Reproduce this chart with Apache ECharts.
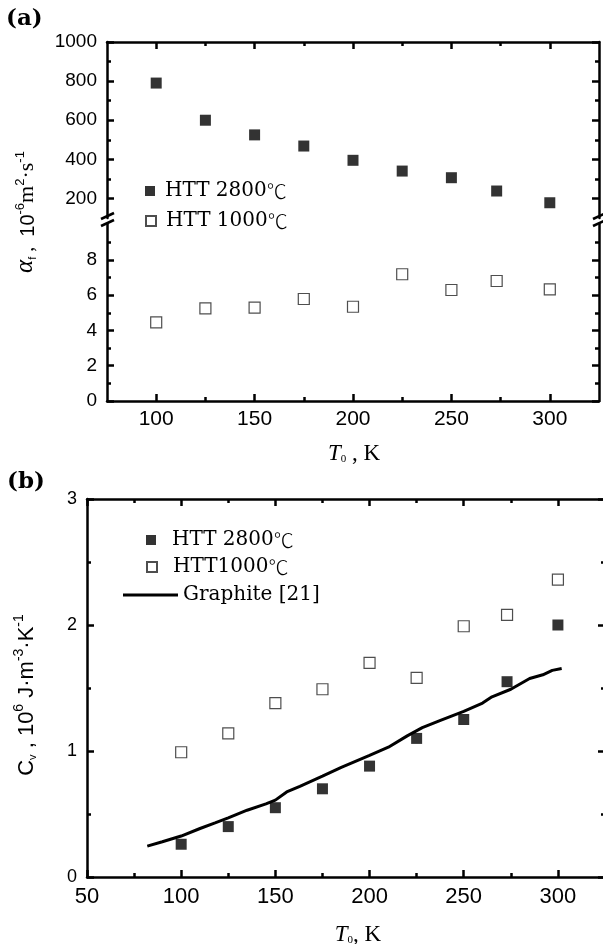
<!DOCTYPE html>
<html>
<head>
<meta charset="utf-8">
<script src="https://cdn.jsdelivr.net/npm/echarts@6/dist/echarts.min.js"></script>
<style>html,body{margin:0;padding:0;background:#fff}#c{width:603px;height:944px}</style>
</head>
<body>
<div id="c"></div>
<script>
// ---------- data ----------
const temps = [100, 125, 150, 175, 200, 225, 250, 273, 300];
const alpha2800 = [790, 600, 525, 468, 395, 340, 306, 238, 178];
const alpha1000 = [4.46, 5.25, 5.29, 5.78, 5.34, 7.18, 6.29, 6.80, 6.33];
const cv2800 = [0.26, 0.40, 0.55, 0.70, 0.88, 1.10, 1.25, 1.55, 2.00];
const cv1000 = [0.99, 1.14, 1.38, 1.49, 1.70, 1.58, 1.99, 2.08, 2.36];
const graphiteT = [82, 90, 100, 110, 118, 125, 135, 145, 150, 156, 163, 175, 185, 200, 210, 220, 228, 238, 250, 260, 265, 275, 285, 292, 297, 302];
const graphiteC = [0.245, 0.28, 0.325, 0.385, 0.43, 0.47, 0.53, 0.58, 0.61, 0.675, 0.72, 0.80, 0.87, 0.965, 1.03, 1.12, 1.185, 1.245, 1.315, 1.38, 1.43, 1.49, 1.575, 1.605, 1.64, 1.655];

const xTicksA = [100, 150, 200, 250, 300];
const xMinorA = [125, 175, 225, 275];
const yTicksAUpper = [200, 400, 600, 800, 1000];
const yMinorAUpper = [300, 500, 700, 900];
const yTicksALower = [0, 2, 4, 6, 8];
const yMinorALower = [1, 3, 5, 7, 9];
const xTicksB = [50, 100, 150, 200, 250, 300];
const xMinorB = [75, 125, 175, 225, 275];
const yTicksB = [0, 1, 2, 3];
const yMinorB = [0.5, 1.5, 2.5];

const legendTexts = {
  a2800: ['HTT 2800', '℃'], a1000: ['HTT 1000', '℃'],
  b2800: ['HTT 2800', '℃'], b1000: ['HTT1000', '℃'], graphite: ['Graphite [21]', '']
};

// ---------- helpers ----------
const SERIF = "'Liberation Serif', 'Times New Roman', serif";
const WSERIF = "'DejaVu Serif', 'Liberation Serif', serif";
const SANS = "'Liberation Sans', Arial, sans-serif";
const CJK = "'Noto Sans CJK SC', 'DejaVu Sans', sans-serif";
const xAxes = [], yAxes = [];
const lineStyle = {color: '#000', width: 2.5};

function addSide(arr, g, pos, min, max, majors, minors, o) {
  const idx = arr.length;
  arr.push({
    gridIndex: g, type: 'value', position: pos, min: min, max: max,
    axisLine: {show: !!o.line, onZero: false, lineStyle: lineStyle},
    axisTick: {show: !!o.ticks, inside: true, length: 7, lineStyle: lineStyle, customValues: majors},
    axisLabel: o.labels ? {show: true, customValues: majors, fontSize: o.fontSize, fontFamily: SANS, color: '#000', margin: o.margin, formatter: v => String(v)} : {show: false},
    splitLine: {show: false}
  });
  arr.push({
    gridIndex: g, type: 'value', position: pos, min: min, max: max,
    axisLine: {show: false, onZero: false},
    axisTick: {show: !!o.ticks, inside: true, length: 4, lineStyle: lineStyle, customValues: minors},
    axisLabel: {show: false},
    splitLine: {show: false}
  });
  return idx;
}

const grids = [
  {left: 107, top: 42, width: 492, height: 176, outerBoundsMode: 'none', containLabel: false},      // (a) upper
  {left: 107, top: 224.5, width: 492, height: 176.5, outerBoundsMode: 'none', containLabel: false}, // (a) lower
  {left: 87, top: 499, width: 518, height: 378, outerBoundsMode: 'none', containLabel: false}       // (b)
];

// (a) upper
const xA0 = addSide(xAxes, 0, 'top', 75, 325, xTicksA, xMinorA, {line: true, ticks: true});
const yA0 = addSide(yAxes, 0, 'left', 100, 1000, yTicksAUpper, yMinorAUpper, {line: true, ticks: true, labels: true, fontSize: 19, margin: 10});
addSide(yAxes, 0, 'right', 100, 1000, yTicksAUpper, yMinorAUpper, {line: true, ticks: true});
// (a) lower
const xA1 = addSide(xAxes, 1, 'bottom', 75, 325, xTicksA, xMinorA, {line: true, ticks: true, labels: true, fontSize: 21, margin: 8});
const yA1 = addSide(yAxes, 1, 'left', 0, 10, yTicksALower, yMinorALower, {line: true, ticks: true, labels: true, fontSize: 19, margin: 10});
addSide(yAxes, 1, 'right', 0, 10, yTicksALower, yMinorALower, {line: true, ticks: true});
// (b)
const xB = addSide(xAxes, 2, 'bottom', 50, 325, xTicksB, xMinorB, {line: true, ticks: true, labels: true, fontSize: 22, margin: 9});
addSide(xAxes, 2, 'top', 50, 325, xTicksB, xMinorB, {line: true, ticks: true});
const yB = addSide(yAxes, 2, 'left', 0, 3, yTicksB, yMinorB, {line: true, ticks: true, labels: true, fontSize: 18, margin: 10});
addSide(yAxes, 2, 'right', 0, 3, yTicksB, yMinorB, {line: true, ticks: true});

const zip = (xs, ys) => xs.map((x, i) => [x, ys[i]]);
const filled = {color: '#000'};
const open = {color: '#fff', borderColor: '#222', borderWidth: 1.2};

const series = [
  {name: 'a2800', type: 'scatter', xAxisIndex: xA0, yAxisIndex: yA0, symbol: 'rect', symbolSize: 11, itemStyle: filled, data: zip(temps, alpha2800)},
  {name: 'a1000', type: 'scatter', xAxisIndex: xA1, yAxisIndex: yA1, symbol: 'rect', symbolSize: 11, itemStyle: open, data: zip(temps, alpha1000)},
  {name: 'graphite', type: 'line', xAxisIndex: xB, yAxisIndex: yB, symbol: 'none', showSymbol: false, lineStyle: {color: '#000', width: 3}, itemStyle: {color: '#000'}, data: zip(graphiteT, graphiteC), z: 1},
  {name: 'b2800', type: 'scatter', xAxisIndex: xB, yAxisIndex: yB, symbol: 'rect', symbolSize: 11, itemStyle: filled, data: zip(temps, cv2800), z: 3},
  {name: 'b1000', type: 'scatter', xAxisIndex: xB, yAxisIndex: yB, symbol: 'rect', symbolSize: 11, itemStyle: open, data: zip(temps, cv1000), z: 3}
];

function legendItem(name, left, top, w, h, pad, icon, extra) {
  const t = legendTexts[name];
  return Object.assign({
    left: left, top: top, padding: 0, itemWidth: w, itemHeight: h, selectedMode: false,
    data: [{name: name, icon: icon}],
    formatter: () => '{t|' + t[0] + '}' + (t[1] ? '{c|' + t[1] + '}' : ''),
    textStyle: {rich: {
      t: {fontFamily: WSERIF, fontSize: 20, color: '#000', padding: [0, 0, 0, pad]},
      c: {fontFamily: CJK, fontSize: 20, fontWeight: 300, color: '#000'}
    }}
  }, extra || {});
}

const legends = [
  legendItem('a2800', 145, 181, 10, 10, 5, 'rect'),
  legendItem('a1000', 145, 211, 10, 10, 5, 'rect'),
  legendItem('b2800', 146, 530, 10, 10, 11, 'rect'),
  legendItem('b1000', 146, 557, 10, 10, 11, 'rect'),
  legendItem('graphite', 123, 585, 55, 3, 0, 'rect', {itemStyle: {color: '#000'}})
];

const sup = (s) => ({fontSize: s, verticalAlign: 'top', fontFamily: SANS, color: '#000'});
const graphic = [
  {type: 'text', left: 6, top: 8, style: {text: '(a)', font: "bold 23px 'DejaVu Serif'", fill: '#000'}},
  {type: 'text', left: 7, top: 471, style: {text: '(b)', font: "bold 23px 'DejaVu Serif'", fill: '#000'}},
  // y title (a)
  {type: 'text', x: 26, y: 212, rotation: Math.PI / 2, style: {
    text: '{al|α}{sb|f}{sp| ,  }{n|10}{su|-6}{m|m}{su|2}{m|·s}{su|-1}',
    align: 'center', verticalAlign: 'middle',
    rich: {
      al: {fontFamily: SERIF, fontStyle: 'italic', fontSize: 25, color: '#000', lineHeight: 24, verticalAlign: 'bottom'},
      sb: {fontFamily: SANS, fontSize: 11, color: '#000', verticalAlign: 'bottom'},
      sp: {fontFamily: SERIF, fontSize: 20, color: '#000', verticalAlign: 'bottom'},
      n: {fontFamily: SANS, fontSize: 20, color: '#000', verticalAlign: 'bottom'},
      m: {fontFamily: SERIF, fontSize: 22, color: '#000', verticalAlign: 'bottom'},
      su: sup(13)
    }
  }},
  // y title (b)
  {type: 'text', x: 25, y: 695, rotation: Math.PI / 2, style: {
    text: '{c|C}{sb|v}{c| , 10}{su|6}{c| J·m}{su|-3}{c|·K}{su|-1}',
    align: 'center', verticalAlign: 'middle',
    rich: {
      c: {fontFamily: SANS, fontSize: 22, color: '#000', lineHeight: 26, verticalAlign: 'bottom'},
      sb: {fontFamily: SANS, fontSize: 11, color: '#000', verticalAlign: 'bottom'},
      su: sup(14)
    }
  }},
  // x titles
  {type: 'text', x: 354, y: 452, style: {
    text: '{t|T}{s|0}{k| , K}', align: 'center', verticalAlign: 'middle',
    rich: {
      t: {fontFamily: SERIF, fontStyle: 'italic', fontSize: 23, color: '#000', verticalAlign: 'bottom', lineHeight: 26},
      s: {fontFamily: SERIF, fontSize: 11, color: '#000', verticalAlign: 'bottom'},
      k: {fontFamily: SERIF, fontSize: 23, color: '#000', verticalAlign: 'bottom'}
    }
  }},
  {type: 'text', x: 358, y: 933, style: {
    text: '{t|T}{s|0}{k|, K}', align: 'center', verticalAlign: 'middle',
    rich: {
      t: {fontFamily: SERIF, fontStyle: 'italic', fontSize: 23, color: '#000', verticalAlign: 'bottom', lineHeight: 26},
      s: {fontFamily: SERIF, fontSize: 11, color: '#000', verticalAlign: 'bottom'},
      k: {fontFamily: SERIF, fontSize: 23, color: '#000', verticalAlign: 'bottom'}
    }
  }},
  // axis break marks
  {type: 'line', shape: {x1: 101, y1: 219, x2: 114, y2: 213}, style: {stroke: '#000', lineWidth: 2.5}, z: 10},
  {type: 'line', shape: {x1: 101, y1: 226, x2: 114, y2: 220}, style: {stroke: '#000', lineWidth: 2.5}, z: 10},
  {type: 'line', shape: {x1: 593, y1: 219, x2: 606, y2: 213}, style: {stroke: '#000', lineWidth: 2.5}, z: 10},
  {type: 'line', shape: {x1: 593, y1: 226, x2: 606, y2: 220}, style: {stroke: '#000', lineWidth: 2.5}, z: 10}
];

const chart = echarts.init(document.getElementById('c'), null, {renderer: 'canvas'});
chart.setOption({
  animation: false,
  backgroundColor: '#fff',
  grid: grids,
  xAxis: xAxes,
  yAxis: yAxes,
  legend: legends,
  series: series,
  graphic: graphic
});
</script>
</body>
</html>
